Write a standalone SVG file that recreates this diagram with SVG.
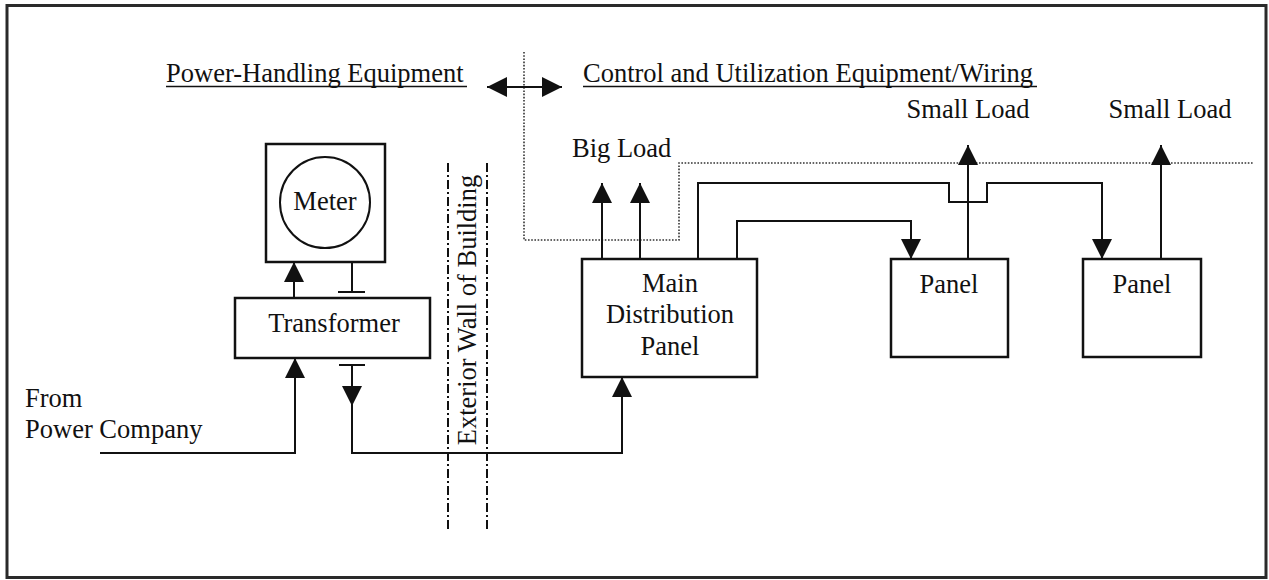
<svg xmlns="http://www.w3.org/2000/svg" width="1269" height="580" viewBox="0 0 1269 580">
  <style>
    .t { font-family: "Liberation Serif", "Times New Roman", serif; font-size: 26.5px; fill: #111; }
    .c { text-anchor: middle; }
    .box { fill: none; stroke: #111; stroke-width: 2.5; }
    .wire { fill: none; stroke: #111; stroke-width: 2; }
    .dot { fill: none; stroke: #333; stroke-width: 1.6; stroke-dasharray: 1.6 1.6; }
    .wall { fill: none; stroke: #111; stroke-width: 2; stroke-dasharray: 9 3 2 3; }
    .ul { stroke: #111; stroke-width: 1.6; }
  </style>
  <defs>
    <marker id="ah" viewBox="0 0 20 20" refX="20" refY="10" markerWidth="20" markerHeight="20" markerUnits="userSpaceOnUse" orient="auto-start-reverse">
      <path d="M0,0 L20,10 L0,20 z" fill="#111"/>
    </marker>
  </defs>
  <rect x="1" y="1" width="1267" height="578" fill="#fff"/>
  <rect id="frame" x="7" y="5.5" width="1259" height="572" fill="none" stroke="#2a2a2a" stroke-width="3"/>

  <g id="headings">
    <text class="t" x="166" y="82">Power-Handling Equipment</text>
    <line class="ul" x1="166" y1="86.5" x2="467" y2="86.5"/>
    <text class="t" x="583" y="82">Control and Utilization Equipment/Wiring</text>
    <line class="ul" x1="583" y1="86.5" x2="1037" y2="86.5"/>
  </g>

  <g id="boundary">
    <path class="dot" d="M524,52 V240 H679 V163 H1254"/>
  </g>

  <g id="exterior-wall">
    <line class="wall" x1="448" y1="163" x2="448" y2="530"/>
    <line class="wall" x1="487" y1="163" x2="487" y2="530"/>
    <text class="t c" transform="translate(476,310) rotate(-90)">Exterior Wall of Building</text>
  </g>

  <g id="meter">
    <rect class="box" x="266" y="144" width="119" height="118"/>
    <ellipse cx="325" cy="202.5" rx="45" ry="45.5" fill="none" stroke="#111" stroke-width="2"/>
    <text class="t c" x="325" y="210">Meter</text>
  </g>

  <g id="transformer">
    <rect class="box" x="235" y="298" width="195" height="60"/>
    <text class="t c" x="334" y="332">Transformer</text>
  </g>

  <g id="main-distribution-panel">
    <rect class="box" x="582" y="259" width="175" height="118"/>
    <text class="t c" x="670" y="292">Main</text>
    <text class="t c" x="670" y="323">Distribution</text>
    <text class="t c" x="670" y="355">Panel</text>
  </g>

  <g id="panel-1">
    <rect class="box" x="891" y="259" width="117" height="98"/>
    <text class="t c" x="949" y="293">Panel</text>
  </g>

  <g id="panel-2">
    <rect class="box" x="1083" y="259" width="118" height="98"/>
    <text class="t c" x="1142" y="293">Panel</text>
  </g>

  <g id="labels">
    <text class="t" x="572" y="157">Big Load</text>
    <text class="t c" x="968" y="118">Small Load</text>
    <text class="t c" x="1170" y="118">Small Load</text>
    <text class="t" x="25" y="407">From</text>
    <text class="t" x="25" y="438">Power Company</text>
  </g>

  <g id="connectors">
    <line class="wire" x1="487" y1="87" x2="562" y2="87" marker-start="url(#ah)" marker-end="url(#ah)"/>
    <path class="wire" d="M100,453 H295 V358" marker-end="url(#ah)"/>
    <path class="wire" d="M294,298 V262" marker-end="url(#ah)"/>
    <path class="wire" d="M352,262 V292 M338,292 H365"/>
    <path class="wire" d="M339,365 H365 M352,365 V406" marker-end="url(#ah)"/>
    <path class="wire" d="M352,406 V453 H622 V377" marker-end="url(#ah)"/>
    <path class="wire" d="M602,259 V183" marker-end="url(#ah)"/>
    <path class="wire" d="M640,259 V183" marker-end="url(#ah)"/>
    <path class="wire" d="M698,259 V183 H949 V202 H987 V183 H1102 V259" marker-end="url(#ah)"/>
    <path class="wire" d="M737,259 V221 H911 V259" marker-end="url(#ah)"/>
    <path class="wire" d="M968,259 V145" marker-end="url(#ah)"/>
    <path class="wire" d="M1161,259 V145" marker-end="url(#ah)"/>
  </g>
</svg>
